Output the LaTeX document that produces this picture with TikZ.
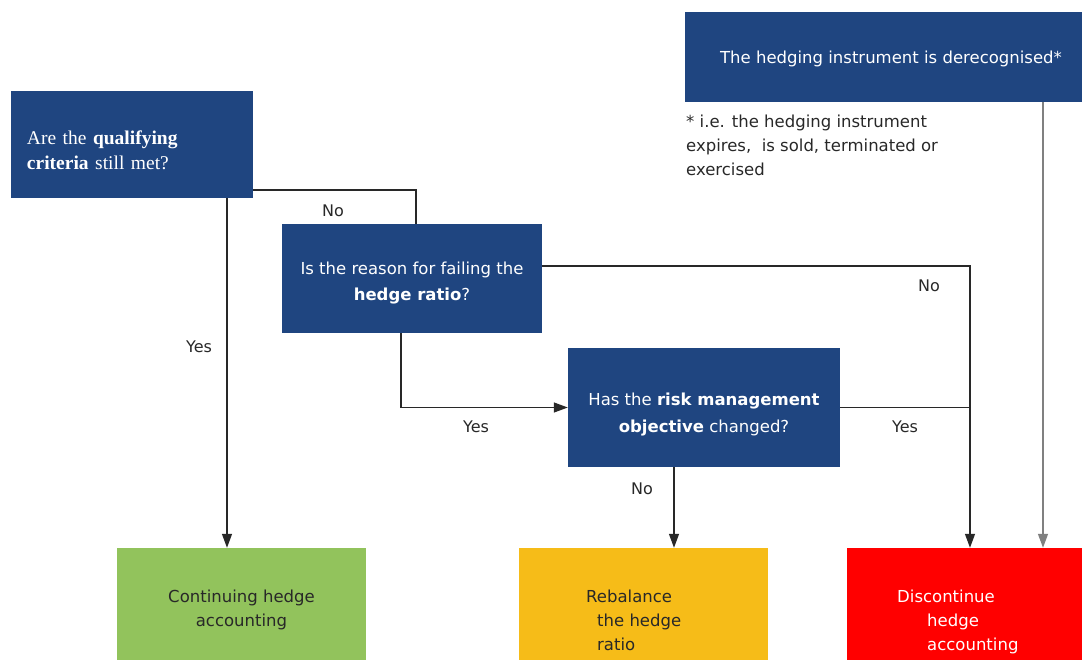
\documentclass[tikz,border=0pt]{standalone}
\usepackage{xcolor}
\usepackage{tikz}
\usepackage{fontspec}
\setmainfont{Liberation Serif}
\setsansfont{DejaVu Sans}
\definecolor{deepblue}{RGB}{31, 69, 128}
\definecolor{okgreen}{RGB}{146, 195, 92}
\definecolor{warnyellow}{RGB}{246, 188, 24}
\definecolor{stopred}{RGB}{255, 0, 0}
\definecolor{inkgrey}{RGB}{40, 40, 40}
\usetikzlibrary{arrows.meta, positioning}

\begin{document}
\begin{tikzpicture}[x=1pt, y=-1pt,
    qbox/.style={fill=deepblue, text=white, inner sep=0pt, align=center,
          font=\sffamily\fontsize{16.5}{26}\selectfont},
    endbox/.style={inner sep=0pt, minimum width=249pt, minimum height=144pt},
    endtext/.style={inner sep=0pt, font=\sffamily\fontsize{16.5}{24}\selectfont},
    answer/.style={text=inkgrey, inner sep=0pt, font=\sffamily\fontsize{16}{18}\selectfont},
    flow/.style={draw=inkgrey, line width=1.3pt, -{Triangle[length=14pt, width=10pt]}},
    plain/.style={draw=inkgrey, line width=1.3pt}]
    \clip (0,0) rectangle (1082,660);

    % questions
    \node[qbox, minimum width=242pt, minimum height=107pt, text width=210pt, align=left,
          font=\rmfamily\fontsize{19.5}{25}\selectfont] (crit) at (132,144.5)
          {\rule{0pt}{25.5pt}Are the \textbf{qualifying}\\\textbf{criteria} still met?};
    \node[qbox, minimum width=260pt, minimum height=109pt] (reason) at (412,278.5)
          {\rule{0pt}{22pt}Is the reason for failing the\\\textbf{hedge ratio}?};
    \node[qbox, minimum width=272pt, minimum height=119pt,
          font=\sffamily\fontsize{16.5}{27}\selectfont] (objective) at (704,407.5)
          {\rule{0pt}{26pt}Has the \textbf{risk management}\\\textbf{objective} changed?};
    \node[qbox, minimum width=412pt, minimum height=90pt] (derec) at (891,57)
          {\rule{0pt}{16pt}The hedging instrument is derecognised*};
    \node[text=inkgrey, inner sep=0pt, anchor=north west, align=left,
          font=\sffamily\fontsize{16.5}{24}\selectfont] (note) at (686,114.5)
          {* i.e. the hedging instrument\\expires,\ \ is sold, terminated or\\exercised};

    % outcomes
    \node[endbox, fill=okgreen] (cont) at (241.5,620) {};
    \node[endbox, fill=warnyellow] (rebal) at (643.5,620) {};
    \node[endbox, fill=stopred, minimum width=246pt] (disc) at (970,620) {};
    \node[endtext, text=inkgrey, align=center, anchor=north] (conttxt) at (241.5,590)
          {Continuing hedge\\accounting};
    \node[endtext, text=inkgrey, align=left, anchor=north west] (rebaltxt) at (586,590)
          {Rebalance\\\hspace*{11pt}the hedge\\\hspace*{11pt}ratio};
    \node[endtext, text=white, align=left, anchor=north west] (disctxt) at (897,590)
          {Discontinue\\\hspace*{30pt}hedge\\\hspace*{30pt}accounting};

    % connectors
    \draw[flow] ([xshift=95pt]crit.south) -- ([xshift=95pt]crit.south |- cont.north);
    \draw[plain] ([yshift=-45.5pt]crit.east) -| ([xshift=4pt]reason.north);
    \draw[flow] ([xshift=-11pt]reason.south) |- (objective.west);
    \draw[flow] ([yshift=12.5pt]reason.east) -| (disc.north);
    \draw[plain] (objective.east) -- (objective.east -| disc.north);
    \draw[flow] ([xshift=-30pt]objective.south) -- ([xshift=-30pt]objective.south |- rebal.north);
    \draw[flow, draw=gray] ([xshift=152pt]derec.south) -- ([xshift=152pt]derec.south |- disc.north);

    % answers
    \node[answer] (yescrit) at (199,347) {Yes};
    \node[answer] (nocrit) at (333,211) {No};
    \node[answer] (yesreason) at (476,427) {Yes};
    \node[answer] (noreason) at (929,286) {No};
    \node[answer] (yesobj) at (905,427) {Yes};
    \node[answer] (noobj) at (642,489) {No};
\end{tikzpicture}
\end{document}
